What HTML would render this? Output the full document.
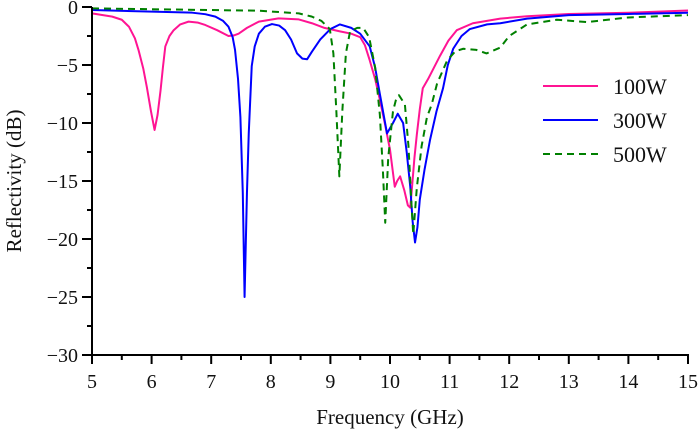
<!DOCTYPE html>
<html><head><meta charset="utf-8"><style>html,body{margin:0;padding:0;background:#fff}svg{display:block}text{font-family:"Liberation Serif",serif;fill:#111}</style></head>
<body>
<svg width="700" height="436" viewBox="0 0 700 436" xmlns="http://www.w3.org/2000/svg">
<g transform="matrix(59.6,0,0,-11.6,-206,7)" fill="none" stroke-width="2" stroke-linejoin="round">
<polyline vector-effect="non-scaling-stroke" stroke="#ff1493" points="5,-0.55 5.34,-0.83 5.5,-1.1 5.62,-1.7 5.72,-2.7 5.78,-3.7 5.86,-5.3 5.92,-6.9 5.99,-9 6.05,-10.6 6.1,-9.3 6.15,-7.2 6.19,-5.2 6.23,-3.4 6.3,-2.5 6.37,-2.0 6.48,-1.5 6.62,-1.26 6.78,-1.35 6.9,-1.55 7.1,-2.0 7.29,-2.5 7.38,-2.45 7.46,-2.3 7.6,-1.8 7.8,-1.26 8.13,-0.98 8.47,-1.07 8.69,-1.4 8.9,-1.8 9.16,-2.1 9.35,-2.3 9.5,-2.6 9.58,-3.3 9.66,-4.6 9.75,-6.2 9.83,-8.0 9.92,-10.2 10.0,-12.3 10.08,-15.5 10.12,-15 10.17,-14.6 10.24,-15.8 10.3,-17.1 10.34,-17.3 10.37,-15.5 10.41,-13 10.45,-11 10.5,-8.8 10.55,-7 10.64,-6.2 10.74,-5.2 10.84,-4.2 10.98,-2.9 11.12,-2.0 11.39,-1.4 11.85,-1.0 12.3,-0.8 13,-0.6 14,-0.5 15,-0.3"/>
<polyline vector-effect="non-scaling-stroke" stroke="#0000ff" points="5,-0.26 6.68,-0.49 6.9,-0.62 7.07,-0.83 7.2,-1.2 7.29,-1.7 7.36,-2.6 7.4,-3.7 7.45,-6.2 7.49,-9.5 7.53,-16 7.56,-25 7.6,-16 7.63,-10.9 7.68,-5.1 7.73,-3.4 7.8,-2.3 7.9,-1.7 8.02,-1.47 8.14,-1.6 8.24,-2.0 8.34,-2.8 8.44,-4.0 8.53,-4.45 8.61,-4.5 8.69,-3.85 8.83,-2.8 9.0,-1.9 9.16,-1.5 9.35,-1.8 9.5,-2.3 9.66,-3.4 9.75,-5.2 9.83,-7.5 9.95,-10.9 10.05,-10.0 10.13,-9.2 10.22,-10.0 10.28,-12.5 10.34,-15.5 10.38,-18.5 10.42,-20.3 10.46,-19 10.5,-16.6 10.58,-14 10.67,-11.5 10.78,-9 10.89,-7 10.97,-5 11.06,-3.6 11.2,-2.5 11.34,-1.9 11.63,-1.5 11.85,-1.4 12.3,-1.0 13,-0.7 14,-0.6 15,-0.5"/>
<polyline vector-effect="non-scaling-stroke" stroke="#008000" stroke-dasharray="7,5" points="5,-0.12 7.8,-0.32 8.47,-0.55 8.69,-0.83 8.85,-1.2 8.99,-1.9 9.05,-4 9.1,-9 9.15,-14.6 9.2,-9 9.26,-4 9.33,-2.1 9.45,-1.8 9.55,-1.8 9.65,-2.6 9.75,-5.2 9.83,-9.3 9.88,-14 9.92,-18.6 9.97,-13 10.05,-9.0 10.1,-8.0 10.15,-7.6 10.25,-8.4 10.31,-12 10.36,-17 10.39,-19.6 10.45,-15.6 10.53,-12 10.62,-9.5 10.7,-8.4 10.79,-6.6 10.96,-4.6 11.1,-3.8 11.23,-3.6 11.45,-3.7 11.62,-4.0 11.85,-3.5 12.0,-2.5 12.3,-1.5 12.8,-1.1 13.3,-1.3 14,-0.9 14.5,-0.8 15,-0.7"/>
</g>
<g stroke="#000" stroke-width="2" fill="none">
<line x1="92" y1="7" x2="92" y2="356"/>
<line x1="91" y1="355" x2="689" y2="355"/>
<path d="M92 355V364M121.8 355V360M151.6 355V364M181.4 355V360M211.2 355V364M241 355V360M270.8 355V364M300.6 355V360M330.4 355V364M360.2 355V360M390 355V364M419.8 355V360M449.6 355V364M479.4 355V360M509.2 355V364M539 355V360M568.8 355V364M598.6 355V360M628.4 355V364M658.2 355V360M688 355V364"/>
<path d="M92 7H82M92 36H87M92 65H82M92 94H87M92 123H82M92 152H87M92 181H82M92 210H87M92 239H82M92 268H87M92 297H82M92 326H87M92 355H82"/>
</g>
<g font-size="20" text-anchor="middle">
<text x="92" y="388">5</text><text x="151.6" y="388">6</text><text x="211.2" y="388">7</text><text x="270.8" y="388">8</text><text x="330.4" y="388">9</text><text x="390" y="388">10</text><text x="449.6" y="388">11</text><text x="509.2" y="388">12</text><text x="568.8" y="388">13</text><text x="628.4" y="388">14</text><text x="688" y="388">15</text>
</g>
<g font-size="20" text-anchor="end">
<text x="78" y="14">0</text><text x="78" y="72">−5</text><text x="78" y="130">−10</text><text x="78" y="188">−15</text><text x="78" y="246">−20</text><text x="78" y="304">−25</text><text x="78" y="362">−30</text>
</g>
<text x="390" y="424" font-size="21" text-anchor="middle">Frequency (GHz)</text>
<text transform="translate(21,181) rotate(-90)" font-size="21" text-anchor="middle">Reflectivity (dB)</text>
<line x1="543" y1="86" x2="598" y2="86" stroke="#ff1493" stroke-width="2"/>
<line x1="543" y1="120" x2="598" y2="120" stroke="#0000ff" stroke-width="2"/>
<line x1="543" y1="154" x2="598" y2="154" stroke="#008000" stroke-width="2" stroke-dasharray="7,5"/>
<text x="613" y="94" font-size="22">100W</text>
<text x="613" y="128" font-size="22">300W</text>
<text x="613" y="162" font-size="22">500W</text>
</svg>
</body></html>
